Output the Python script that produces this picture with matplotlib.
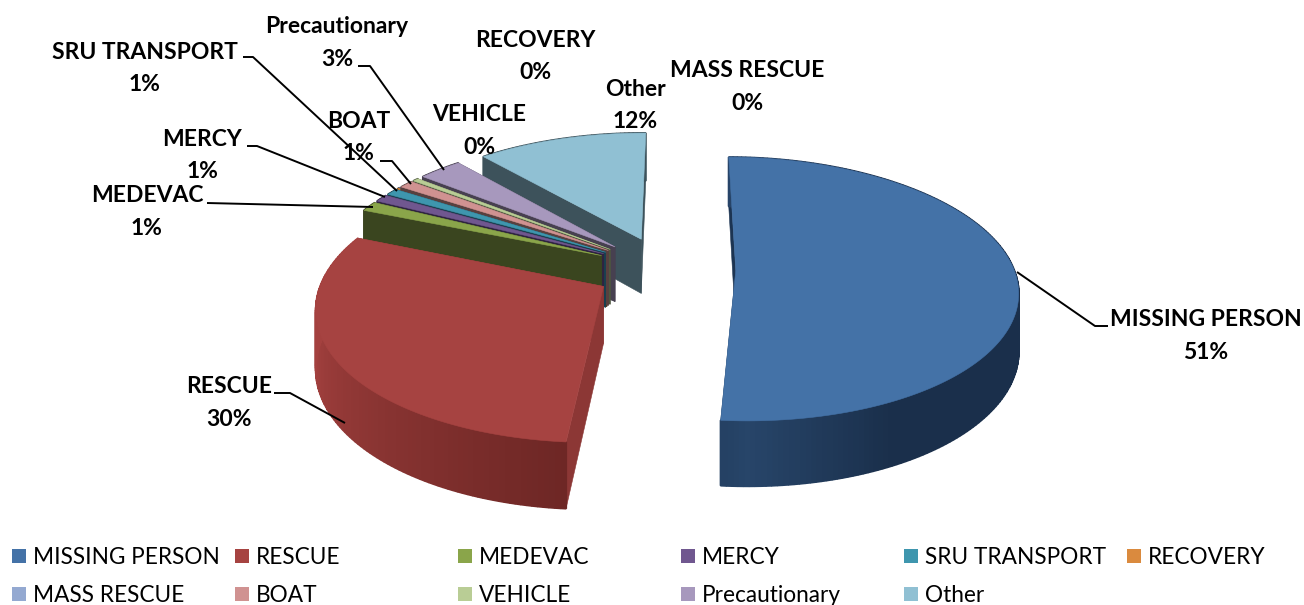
#!/usr/bin/env python3
import numpy as np
import matplotlib
matplotlib.use("Agg")
import matplotlib.pyplot as plt
from matplotlib.colors import to_rgb
from matplotlib.patches import Polygon, Rectangle

categories = ["MISSING PERSON", "RESCUE", "MEDEVAC", "MERCY", "SRU TRANSPORT", "RECOVERY",
              "MASS RESCUE", "BOAT", "VEHICLE", "Precautionary", "Other"]
values = [51.2, 29.9, 1.2, 0.9, 0.8, 0.1, 0.1, 0.95, 0.4, 2.95, 11.5]
pct_labels = ["51%", "30%", "1%", "1%", "1%", "0%", "0%", "1%", "0%", "3%", "12%"]
top_colors = ["#4472a7", "#a64341", "#8aa54a", "#70578f", "#3e96ae", "#da8a3e",
              "#94a9d1", "#d09291", "#b9cd95", "#a798bd", "#90c0d3"]
side_dark = ["#1a2f4b", "#6a2523", "#3a451f", "#2f2440", "#1a4050", "#5c3a1a",
             "#3f4859", "#58403f", "#4e573f", "#474050", "#3d525b"]
side_light = ["#274569", "#a4413f", "#3a451f", "#2f2440", "#1a4050", "#5c3a1a",
              "#3f4859", "#58403f", "#4e573f", "#474050", "#3d525b"]
cut_colors = ["#1c3452", "#8c3735", "#3a451f", "#2f2440", "#1a4050", "#5c3a1a",
              "#3f4859", "#58403f", "#4e573f", "#474050", "#3d525b"]

label_pos = {
    "MISSING PERSON": (1206, 319.5, 352.5), "RESCUE": (229, 386.5, 419.5), "MEDEVAC": (147, 195.5, 228.5),
    "MERCY": (202, 139.5, 171.5), "SRU TRANSPORT": (145, 52.5, 84.5), "RECOVERY": (535, 40.5, 72.5),
    "MASS RESCUE": (747, 70.5, 103.5), "BOAT": (359, 121.5, 153.5), "VEHICLE": (479, 114.5, 147.5),
    "Precautionary": (337, 26.5, 59.5), "Other": (635, 89.5, 121.5),
}
leaders = [
    [(1108, 326), (1095, 326), (1017, 272)],
    [(274, 393), (290, 393), (345, 423)],
    [(207, 203), (373, 207)],
    [(247, 146), (257, 146), (385, 197)],
    [(243, 57), (253, 57), (397, 191)],
    [(380, 161), (392, 161), (411, 184)],
    [(358, 66), (370, 66), (444, 170)],
]

# projection of the pie plane
RX = 278.0
XV = 665.0
Y_H = -648.0
H = 917.0
K = 0.1405
DEPTH = 56.0
EXPLODE = 0.2545
START = np.radians(0.4)


def project(a, r, mid, h=0.0):
    # a, mid in radians clockwise from the top, r in pie radii
    u = EXPLODE * np.sin(mid) + r * np.sin(a)
    z = EXPLODE * np.cos(mid) + r * np.cos(a)
    w = 1.0 / (1.0 + K * z)
    return XV + RX * u * w, Y_H + (H + h * DEPTH) * w


def mix(c1, c2, t):
    c1, c2 = np.array(to_rgb(c1)), np.array(to_rgb(c2))
    return tuple(c1 + (c2 - c1) * t)


def draw_slice(ax, i, a0, a1):
    mid = (a0 + a1) / 2
    n = max(int(np.degrees(a1 - a0)), 2)
    angs = np.linspace(a0, a1, n + 1)

    # cut faces
    for a in (a0, a1):
        pts = [project(a, 1, mid), project(a, 0, mid), project(a, 0, mid, 1), project(a, 1, mid, 1)]
        ax.add_patch(Polygon(pts, closed=True, fc=cut_colors[i], ec=cut_colors[i], lw=0.4))

    # outer wall, shaded by angle
    for j in range(n):
        a, b = angs[j], angs[j + 1]
        t = min(abs(np.sin((a + b) / 2)), 1.0) if i == 0 else (a + b) / 2 - np.pi
        if i == 0:
            col = mix(side_light[i], side_dark[i], min(t * 2.2, 1))
        else:
            col = mix(side_dark[i], side_light[i], np.clip(t / 1.4, 0, 1))
        pts = [project(a, 1, mid), project(b, 1, mid), project(b, 1, mid, 1), project(a, 1, mid, 1)]
        ax.add_patch(Polygon(pts, closed=True, fc=col, ec=col, lw=1.5, joinstyle="bevel"))

    # top face
    pts = [project(0, 0, mid)] + [project(a, 1, mid) for a in angs]
    ax.add_patch(Polygon(pts, closed=True, fc=top_colors[i], ec=top_colors[i], lw=0.4))


def main():
    plt.rcParams["font.family"] = ["Lato", "DejaVu Sans"]
    fig = plt.figure(figsize=(13.04, 6.05), dpi=100)
    ax = fig.add_axes([0, 0, 1, 1])
    ax.set_xlim(0, 1304)
    ax.set_ylim(605, 0)
    ax.axis("off")

    total = sum(values)
    edges = START + np.concatenate(([0], np.cumsum(values))) / total * 2 * np.pi

    # back to front
    order = [10, 9, 8, 6, 5, 7, 4, 3, 2, 1, 0]
    for i in order:
        draw_slice(ax, i, edges[i], edges[i + 1])

    for line in leaders:
        xs, ys = zip(*line)
        ax.plot(xs, ys, color="black", lw=1.4, solid_capstyle="butt")

    for name, pct in zip(categories, pct_labels):
        x, y1, y2 = label_pos[name]
        ax.text(x, y1, name, ha="center", va="center", fontsize=16.5, fontweight="bold", color="black")
        ax.text(x, y2, pct, ha="center", va="center", fontsize=16.5, fontweight="bold", color="black")

    # legend, filled row by row
    for k, (name, col) in enumerate(zip(categories, top_colors)):
        x = 12 + (k % 6) * 223
        y = 557 + (k // 6) * 38
        ax.add_patch(Rectangle((x, y - 8), 14, 14, fc=col, ec="none"))
        ax.text(x + 21, y, name, ha="left", va="center", fontsize=16.3, color="black")

    fig.savefig("out.png", dpi=100)


if __name__ == "__main__":
    main()
